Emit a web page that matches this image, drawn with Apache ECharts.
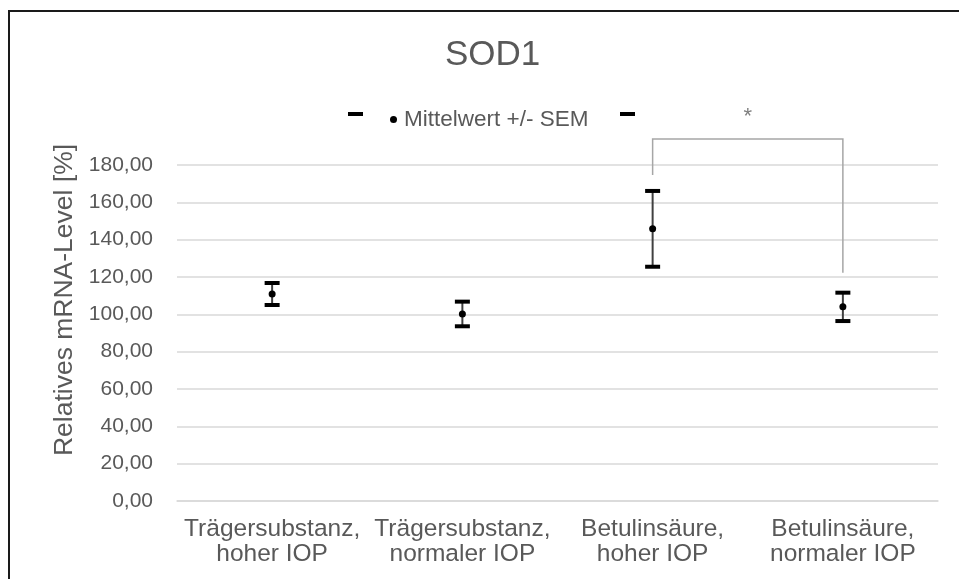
<!DOCTYPE html>
<html>
<head>
<meta charset="utf-8">
<script src="https://cdn.jsdelivr.net/npm/echarts@6/dist/echarts.min.js"></script>
<style>
  html, body { margin: 0; padding: 0; background: #fff; }
  #chart { width: 959px; height: 579px; }
</style>
</head>
<body>
<div id="chart"></div>
<script>
// Groups on the x axis
var categories = [
  'Trägersubstanz,\nhoher IOP',
  'Trägersubstanz,\nnormaler IOP',
  'Betulinsäure,\nhoher IOP',
  'Betulinsäure,\nnormaler IOP'
];
// Mean relative mRNA level (%) and its standard error per group
var means = [110.9, 100.2, 145.8, 104.0];
var sems = [5.9, 6.6, 20.3, 7.6];
// Y axis ticks
var yMin = 0, yMax = 180, yStep = 20;
// Significance bracket between groups 3 and 4: [from, to, leftEnd, top, rightEnd, starLevel]
var bracket = [[2, 3, 174.6, 193.9, 122.3, 205.7]];
var seriesName = 'Mittelwert +/- SEM';

var FONT = '"Liberation Sans", Arial, sans-serif';
var TEXT = '#595959';

var chart = echarts.init(document.getElementById('chart'), null, { renderer: 'canvas' });

var errorData = means.map(function (m, i) { return [i, m, sems[i]]; });

function renderErrorBar(params, api) {
  var i = api.value(0), m = api.value(1), s = api.value(2);
  var top = api.coord([i, m + s]);
  var mid = api.coord([i, m]);
  var bot = api.coord([i, m - s]);
  var capW = 15, capH = 4;
  return {
    type: 'group',
    children: [
      { type: 'line', shape: { x1: mid[0], y1: top[1], x2: mid[0], y2: bot[1] },
        style: { stroke: '#404040', lineWidth: 2 } },
      { type: 'rect', shape: { x: mid[0] - capW / 2, y: top[1] - capH / 2, width: capW, height: capH },
        style: { fill: '#000' } },
      { type: 'rect', shape: { x: mid[0] - capW / 2, y: bot[1] - capH / 2, width: capW, height: capH },
        style: { fill: '#000' } },
      { type: 'circle', shape: { cx: mid[0], cy: mid[1], r: 3.5 },
        style: { fill: '#000' } }
    ]
  };
}

function renderBracket(params, api) {
  var a = api.value(0), b = api.value(1);
  var pL = api.coord([a, api.value(2)]);
  var pT1 = api.coord([a, api.value(3)]);
  var pT2 = api.coord([b, api.value(3)]);
  var pR = api.coord([b, api.value(4)]);
  var star = api.coord([a, api.value(5)]);
  return {
    type: 'group',
    children: [
      { type: 'polyline', shape: { points: [pL, pT1, pT2, pR] },
        style: { stroke: '#a6a6a6', lineWidth: 1.5, fill: null } },
      { type: 'text', x: (pT1[0] + pT2[0]) / 2, y: star[1],
        style: { text: '*', fill: '#7f7f7f', font: '22px ' + FONT,
                 textAlign: 'center', textVerticalAlign: 'middle' } }
    ]
  };
}

var option = {
  backgroundColor: '#ffffff',
  animation: false,
  title: {
    text: 'SOD1',
    left: 440,
    top: 33,
    textStyle: { fontFamily: FONT, fontSize: 35, fontWeight: 'normal', color: TEXT }
  },
  legend: {
    data: [{ name: seriesName, icon: 'circle', itemStyle: { color: '#000' } }],
    left: 385,
    top: 103,
    itemWidth: 7,
    itemHeight: 7,
    itemGap: 0,
    textStyle: { fontFamily: FONT, fontSize: 22.5, color: TEXT, padding: [0, 0, 0, 2] }
  },
  grid: { left: 177, right: 21, top: 165, bottom: 78, containLabel: false },
  xAxis: {
    type: 'category',
    data: categories,
    boundaryGap: true,
    axisLine: { show: true, lineStyle: { color: '#d9d9d9', width: 1.5 } },
    axisTick: { show: false },
    axisLabel: {
      interval: 0, margin: 16,
      fontFamily: FONT, fontSize: 24.5, lineHeight: 25, color: TEXT, align: 'center'
    },
    splitLine: { show: false }
  },
  yAxis: {
    type: 'value',
    min: yMin, max: yMax, interval: yStep,
    name: 'Relatives mRNA-Level [%]',
    nameLocation: 'middle',
    nameGap: 89,
    nameTextStyle: { fontFamily: FONT, fontSize: 26.5, color: TEXT, padding: [0, 0, 0, 66] },
    axisLine: { show: false },
    axisTick: { show: false },
    axisLabel: {
      margin: 24, fontFamily: FONT, fontSize: 21, color: TEXT,
      formatter: function (v) { return v.toFixed(2).replace('.', ','); }
    },
    splitLine: { show: true, lineStyle: { color: '#d9d9d9', width: 1.5 } }
  },
  graphic: [
    { type: 'rect', shape: { x: 9, y: 11, width: 1200, height: 1200 },
      style: { fill: null, stroke: '#1a1a1a', lineWidth: 2 }, z: 100 },
    { type: 'rect', shape: { x: 348, y: 112, width: 15, height: 4 }, style: { fill: '#000' } },
    { type: 'rect', shape: { x: 620, y: 112, width: 15, height: 4 }, style: { fill: '#000' } }
  ],
  series: [
    {
      name: seriesName,
      type: 'custom',
      renderItem: renderErrorBar,
      itemStyle: { color: '#000' },
      encode: { x: 0, y: 1 },
      data: errorData,
      z: 10
    },
    {
      name: 'bracket',
      type: 'custom',
      renderItem: renderBracket,
      encode: { x: 0, y: 3 },
      data: bracket,
      clip: false,
      silent: true,
      z: 5
    }
  ]
};

chart.setOption(option);
</script>
</body>
</html>
